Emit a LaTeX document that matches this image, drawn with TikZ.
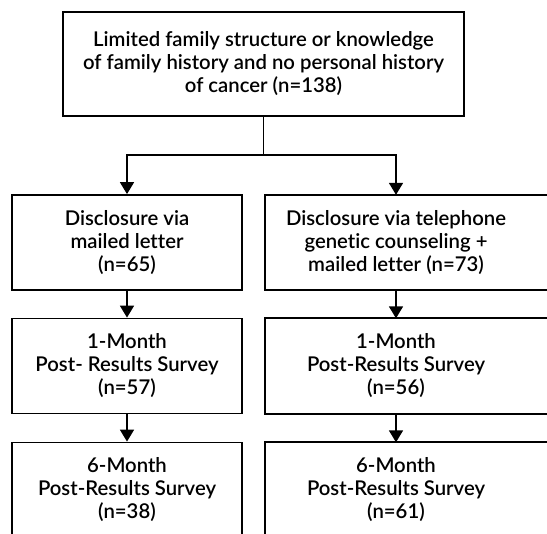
\documentclass[tikz,border=0pt]{standalone}
\usepackage{fontspec}
\setmainfont{Lato Semibold}[Ligatures=NoCommon]
\usepackage{tikz}
\usetikzlibrary{arrows.meta, positioning, calc}

\begin{document}
\begin{tikzpicture}[x=1pt,y=-1pt,
    box/.style={rectangle,draw,line width=1.8pt,align=center,inner sep=0pt,
      font=\fontsize{20.3}{23}\selectfont,minimum width=230pt,minimum height=95pt},
    openbox/.style={rectangle,align=center,inner sep=0pt,
      font=\fontsize{20.3}{23}\selectfont,minimum width=262pt,minimum height=95pt},
    flow/.style={line width=1.8pt,-{Triangle[width=14pt,length=12pt]}},
    link/.style={line width=1.8pt}]
    \clip (0,0) rectangle (547,534);
    \fill[white] (0,0) rectangle (547,534);

    % Box principale
    \node[box,minimum width=401pt,minimum height=104pt] (main) at (263.5,64)
      {Limited family structure or knowledge\\of family history and no personal history\\of cancer (n=138)};
    \coordinate (split) at (263.5,155);

    % Colonna sinistra
    \node[box] (letter) at (127,242.5) {Disclosure via\\mailed letter\\(n=65)};
    \node[box] (letterA) at (127,366) {1-Month\\Post- Results Survey\\(n=57)};
    \node[box] (letterB) at (127,490) {6-Month\\Post-Results Survey\\(n=38)};

    % Colonna destra (tagliata a destra)
    \node[openbox] (phone) at (396,242.5) {Disclosure via telephone\\genetic counseling +\\mailed letter (n=73)};
    \node[openbox] (phoneA) at (396,366) {1-Month\\Post-Results Survey\\(n=56)};
    \node[openbox] (phoneB) at (396,490) {6-Month\\Post-Results Survey\\(n=61)};
    \foreach \b in {phone,phoneA,phoneB}
      \draw[link] (\b.north west) rectangle ([xshift=40pt]\b.south east);

    % Connessioni
    \draw[link] (main.south) -- (split);
    \draw[flow] (split) -| (letter.north);
    \draw[flow] (split) -| (phone.north);
    \draw[flow] (letter) -- (letterA);
    \draw[flow] (letterA) -- (letterB);
    \draw[flow] (phone) -- (phoneA);
    \draw[flow] (phoneA) -- (phoneB);
\end{tikzpicture}
\end{document}
